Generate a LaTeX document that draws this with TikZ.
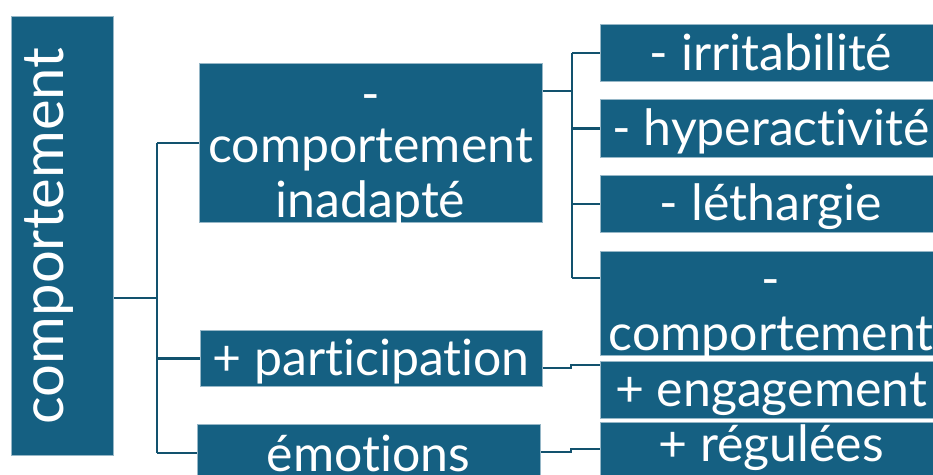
\documentclass[tikz,border=0pt]{standalone}
\usepackage{fontspec}
\setmainfont[Ligatures=NoCommon]{Lato}
\definecolor{boxC}{HTML}{156082}
\colorlet{lineC}{boxC!85!black}
\begin{document}
\begin{tikzpicture}[x=1pt,y=-1pt,
  box/.style={fill=boxC, draw=boxC!45!white, line width=0.8pt, anchor=north west, inner sep=0pt},
  lbl/.style={text=white, font=\fontsize{50}{55}\selectfont, anchor=base, inner sep=0pt},
  link/.style={draw=lineC, line width=2.2pt}]
\useasboundingbox (0,0) rectangle (933,474);
\clip (0,0) rectangle (933,474);

% boxes
\node[box, minimum width=102, minimum height=439] (root) at (11,16) {};
\node[box, minimum width=343, minimum height=159] (inad) at (199,63) {};
\node[box, minimum width=342, minimum height=56] (part) at (200,330) {};
\node[box, minimum width=343, minimum height=57] (emo) at (197,424) {};
\node[box, minimum width=342, minimum height=57] (irr) at (600,24) {};
\node[box, minimum width=342, minimum height=58] (hyp) at (600,99) {};
\node[box, minimum width=342, minimum height=57] (let) at (600,175) {};
\node[box, minimum width=342, minimum height=104] (comp) at (600,251) {};
\node[box, minimum width=342, minimum height=57] (eng) at (600,361) {};
\node[box, minimum width=342, minimum height=57] (reg) at (600,422) {};

% labels
\node[lbl, rotate=90, font=\fontsize{58}{60}\selectfont] (tRoot) at (63,236) {comportement};
\begin{scope}
  \clip (inad.north west) rectangle (inad.south east);
  \node[lbl] (tInadA) at (370.5,111) {-};
  \node[lbl] (tInadB) at (370.5,162) {comportement};
  \node[lbl] (tInadC) at (370.5,217) {inadapté};
\end{scope}
\begin{scope}
  \clip (comp.north west) rectangle (comp.south east);
  \node[lbl] (tCompA) at (771,296) {-};
  \node[lbl] (tCompB) at (771,350) {comportement};
\end{scope}
\node[lbl] (tPart) at (371,375) {+ participation};
\node[lbl] (tEmo) at (368.5,471) {émotions};
\node[lbl] (tIrr) at (771,70) {- irritabilité};
\node[lbl] (tHyp) at (771,145) {- hyperactivité};
\node[lbl] (tLet) at (771,220) {- léthargie};
\node[lbl] (tEng) at (771,406) {+ engagement};
\node[lbl] (tReg) at (771,461) {+ régulées};

% connectors
\coordinate (j0) at (157,298);
\coordinate (j1) at (572,91);
\draw[link] (root.east |- j0) -- (j0);
\draw[link] (j0 |- inad.west) -- (j0 |- emo.west);
\draw[link] (j0 |- inad.west) -- (inad.west);
\draw[link] (j0 |- part.west) -- (part.west);
\draw[link] (j0 |- emo.west) -- (emo.west);
\draw[link] (inad.east |- j1) -- (j1);
\draw[link] (j1 |- irr.west) -- (j1 |- 0,278);
\draw[link] (j1 |- irr.west) -- (irr.west);
\draw[link] (j1 |- hyp.west) -- (hyp.west);
\draw[link] (j1 |- let.west) -- (let.west);
\draw[link] (j1 |- 0,278) -- (comp.north west |- 0,278);
\coordinate (k1) at (571,368);
\coordinate (k2) at (571,452);
\draw[link] (part.east |- k1) -- (k1) -- ++(0,-3) -- (eng.north west |- 0,365);
\draw[link] (emo.east |- k2) -- (k2) -- ++(0,-3) -- (reg.north west |- 0,449);
\end{tikzpicture}
\end{document}
